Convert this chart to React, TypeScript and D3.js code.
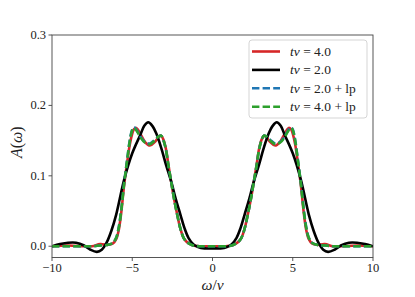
import React from "react";
import * as d3 from "d3";

const W = 415;
const H = 297;

// ---- data ----
const xTicks = [-10, -5, 0, 5, 10];
const yTicks = [0.0, 0.1, 0.2, 0.3];

const xBlack = [-10, -9.5, -9, -8.5, -8, -7.6, -7.2, -6.9, -6.6, -6.3, -6.0, -5.5, -5.0, -4.5, -4.25, -4.0, -3.75, -3.5, -3.2, -2.9, -2.55, -2.3, -2.0, -1.75, -1.5, -1.2, -0.9, -0.5, 0, 0.5, 0.9, 1.2, 1.5, 1.75, 2.0, 2.3, 2.55, 2.9, 3.2, 3.5, 3.75, 4.0, 4.25, 4.5, 5.0, 5.5, 6.0, 6.3, 6.6, 6.9, 7.2, 7.6, 8.0, 8.5, 9.0, 9.5, 10];
const yBlack = [0.0, 0.003, 0.005, 0.005, 0.001, -0.005, -0.008, -0.005, 0.005, 0.022, 0.045, 0.095, 0.132, 0.158, 0.171, 0.176, 0.171, 0.16, 0.14, 0.116, 0.09, 0.068, 0.045, 0.026, 0.012, 0.003, -0.001, -0.003, -0.003, -0.003, -0.001, 0.003, 0.012, 0.026, 0.045, 0.068, 0.09, 0.116, 0.14, 0.16, 0.171, 0.176, 0.171, 0.158, 0.132, 0.095, 0.045, 0.022, 0.005, -0.005, -0.008, -0.005, 0.001, 0.005, 0.005, 0.003, 0.0];

const xLp = [-10, -9, -8, -7.5, -7, -6.5, -6.2, -6.0, -5.85, -5.7, -5.5, -5.3, -5.15, -5.0, -4.9, -4.75, -4.5, -4.2, -3.9, -3.6, -3.35, -3.2, -3.05, -2.9, -2.75, -2.6, -2.4, -2.2, -2.0, -1.8, -1.6, -1.4, -1.2, -0.8, 0, 0.8, 1.2, 1.4, 1.6, 1.8, 2.0, 2.2, 2.4, 2.6, 2.75, 2.9, 3.05, 3.2, 3.35, 3.6, 3.9, 4.2, 4.5, 4.75, 4.9, 5.0, 5.15, 5.3, 5.5, 5.7, 5.85, 6.0, 6.2, 6.5, 7, 7.5, 8, 9, 10];
const yGreen = [0, 0, 0, 0, 0.001, 0.002, 0.005, 0.012, 0.025, 0.048, 0.09, 0.125, 0.15, 0.165, 0.168, 0.165, 0.155, 0.147, 0.145, 0.15, 0.156, 0.157, 0.15, 0.137, 0.115, 0.095, 0.068, 0.045, 0.025, 0.012, 0.006, 0.003, 0.001, 0, 0, 0, 0.001, 0.003, 0.006, 0.012, 0.025, 0.045, 0.068, 0.095, 0.115, 0.137, 0.15, 0.157, 0.156, 0.15, 0.145, 0.147, 0.155, 0.165, 0.168, 0.165, 0.15, 0.125, 0.09, 0.048, 0.025, 0.012, 0.005, 0.002, 0.001, 0, 0, 0, 0];
const yBlue = [0, 0, 0, 0, 0.001, 0.002, 0.005, 0.012, 0.026, 0.049, 0.091, 0.126, 0.151, 0.166, 0.169, 0.166, 0.156, 0.148, 0.146, 0.151, 0.156, 0.157, 0.15, 0.137, 0.115, 0.095, 0.068, 0.045, 0.025, 0.012, 0.006, 0.003, 0.001, 0, 0, 0, 0.001, 0.003, 0.006, 0.012, 0.025, 0.045, 0.068, 0.095, 0.115, 0.137, 0.15, 0.157, 0.156, 0.151, 0.146, 0.148, 0.156, 0.166, 0.169, 0.166, 0.151, 0.126, 0.091, 0.049, 0.026, 0.012, 0.005, 0.002, 0.001, 0, 0, 0, 0];
const yRed = [0, 0.001, 0, 0, 0.003, 0.002, 0.004, 0.01, 0.022, 0.045, 0.088, 0.122, 0.145, 0.16, 0.166, 0.168, 0.16, 0.148, 0.143, 0.148, 0.155, 0.157, 0.151, 0.138, 0.116, 0.095, 0.068, 0.045, 0.025, 0.012, 0.006, 0.003, 0.001, 0, 0, 0, 0.001, 0.003, 0.006, 0.012, 0.025, 0.045, 0.068, 0.095, 0.116, 0.138, 0.151, 0.157, 0.155, 0.148, 0.143, 0.148, 0.16, 0.168, 0.166, 0.16, 0.145, 0.122, 0.088, 0.045, 0.022, 0.01, 0.004, 0.002, 0.003, 0, 0, 0.001, 0];

const seriesLabels = ["4.0", "2.0", "2.0", "4.0"];

// ---- layout ----
const L = 52;
const R = 373;
const T = 35;
const B = 257.5;

const FONT = "'Liberation Serif', 'DejaVu Serif', serif";

export default function App() {
  const x = d3.scaleLinear().domain([-10, 10]).range([L, R]);
  const y = d3.scaleLinear().domain([-0.016, 0.3]).range([B, T]);

  const mk = (xs: number[], ys: number[]) =>
    d3
      .line<number>()
      .x((_, i) => x(xs[i]))
      .y((d) => y(d))
      .curve(d3.curveCatmullRom.alpha(0.5))(ys) || "";

  const series = [
    { xs: xLp, ys: yRed, color: "#d62728", dash: undefined as string | undefined, label: seriesLabels[0], lp: false },
    { xs: xBlack, ys: yBlack, color: "#000000", dash: undefined, label: seriesLabels[1], lp: false },
    { xs: xLp, ys: yBlue, color: "#1f77b4", dash: "7.4 3.2", label: seriesLabels[2], lp: true },
    { xs: xLp, ys: yGreen, color: "#2ca02c", dash: "7.4 3.2", label: seriesLabels[3], lp: true },
  ];

  const axisColor = "#444";
  const legX = 249;
  const legY = 40;
  const rowH = 18.4;

  return (
    <div style={{ position: "absolute", left: 0, top: 0, width: W, height: H, background: "#fff" }}>
      <svg width={W} height={H} style={{ display: "block" }}>
        <rect x={0} y={0} width={W} height={H} fill="#fff" />
        <defs>
          <clipPath id="plotclip">
            <rect x={L} y={T} width={R - L} height={B - T} />
          </clipPath>
        </defs>
        <g clipPath="url(#plotclip)">
          {series.map((s, i) => (
            <path
              key={i}
              d={mk(s.xs, s.ys)}
              fill="none"
              stroke={s.color}
              strokeWidth={2.6}
              strokeDasharray={s.dash}
              strokeLinejoin="round"
            />
          ))}
        </g>
        {/* spines */}
        <rect x={L} y={T} width={R - L} height={B - T} fill="none" stroke={axisColor} strokeWidth={0.9} />
        {/* x ticks */}
        {xTicks.map((t) => (
          <g key={"x" + t}>
            <line x1={x(t)} x2={x(t)} y1={B} y2={B + 3.5} stroke={axisColor} strokeWidth={0.9} />
            <text x={x(t)} y={B + 14.5} textAnchor="middle" fontFamily={FONT} fontSize={12.5} fill="#222">
              {t < 0 ? "\u2212" + Math.abs(t) : String(t)}
            </text>
          </g>
        ))}
        {/* y ticks */}
        {yTicks.map((t) => (
          <g key={"y" + t}>
            <line x1={L - 3.5} x2={L} y1={y(t)} y2={y(t)} stroke={axisColor} strokeWidth={0.9} />
            <text x={L - 6} y={y(t) + 4} textAnchor="end" fontFamily={FONT} fontSize={12.5} fill="#222">
              {t.toFixed(1)}
            </text>
          </g>
        ))}
        {/* axis labels */}
        <text x={(L + R) / 2} y={289.5} textAnchor="middle" fontFamily={FONT} fontSize={15.5} fill="#222">
          <tspan fontStyle="italic">ω</tspan>
          <tspan>/</tspan>
          <tspan fontStyle="italic">v</tspan>
        </text>
        <text
          transform={`translate(22, ${(T + B) / 2 - 4}) rotate(-90)`}
          textAnchor="middle"
          fontFamily={FONT}
          fontSize={16}
          fill="#222"
        >
          <tspan fontStyle="italic">A</tspan>
          <tspan>(</tspan>
          <tspan fontStyle="italic">ω</tspan>
          <tspan>)</tspan>
        </text>
        {/* legend */}
        <rect x={legX} y={legY} width={118} height={78} rx={3} fill="#fff" fillOpacity={0.8} stroke="#d0d0d0" strokeWidth={0.9} />
        {series.map((s, i) => {
          const cy = legY + 11.5 + i * rowH;
          return (
            <g key={"leg" + i}>
              <line x1={legX + 3} x2={legX + 31} y1={cy} y2={cy} stroke={s.color} strokeWidth={2.6} strokeDasharray={s.dash} />
              <text x={legX + 41} y={cy + 4.5} fontFamily={FONT} fontSize={13.5} fill="#222">
                <tspan fontStyle="italic">tv</tspan>
                <tspan>{" = " + s.label}</tspan>
                {s.lp ? <tspan>{" + lp"}</tspan> : null}
              </text>
            </g>
          );
        })}
      </svg>
    </div>
  );
}
